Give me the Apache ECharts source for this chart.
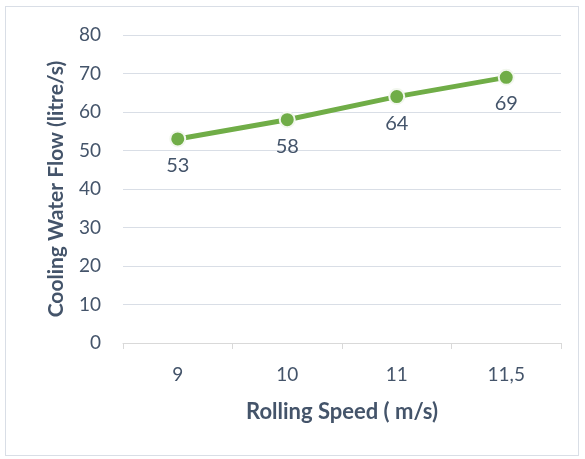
<!DOCTYPE html>
<html><head><meta charset="utf-8">
<script src="https://cdn.jsdelivr.net/npm/echarts@6/dist/echarts.min.js"></script>
<style>html,body{margin:0;padding:0;background:#fff}#c{width:585px;height:459px;position:relative}
#frame{position:absolute;left:5px;top:6px;width:574px;height:450px;border:1.5px solid #D9DEE6;box-sizing:border-box;pointer-events:none}</style>
</head><body><div id="c"></div><div id="frame"></div>
<script>
const categories = ['9', '10', '11', '11,5'];
const flowValues = [53, 58, 64, 69];
const yTicks = [0, 10, 20, 30, 40, 50, 60, 70, 80];
const txt = '#44546A';
const chart = echarts.init(document.getElementById('c'), null, {renderer: 'canvas'});
chart.setOption({
  animation: false,
  grid: {left: 123, right: 24, top: 35, bottom: 116},
  xAxis: {
    type: 'category', data: categories, boundaryGap: true,
    name: 'Rolling Speed ( m/s)', nameLocation: 'middle', nameGap: 58,
    nameTextStyle: {fontFamily: 'Lato', fontWeight: 'bold', fontSize: 22, color: txt},
    axisLine: {lineStyle: {color: '#D9D9D9', width: 1}},
    axisTick: {show: true, length: 6, lineStyle: {color: '#D9D9D9'}},
    axisLabel: {fontFamily: 'Lato', fontSize: 19, color: txt, margin: 22}
  },
  yAxis: {
    type: 'value', min: yTicks[0], max: yTicks[yTicks.length - 1], interval: 10,
    name: 'Cooling Water Flow (litre/s)', nameLocation: 'middle', nameGap: 56, nameRotate: 90,
    nameTextStyle: {fontFamily: 'Lato', fontWeight: 'bold', fontSize: 21, color: txt},
    axisLine: {show: false}, axisTick: {show: false},
    splitLine: {lineStyle: {color: '#D9DEE6', width: 1}},
    axisLabel: {fontFamily: 'Lato', fontSize: 19, color: txt, margin: 22}
  },
  series: [{
    type: 'line', data: flowValues,
    lineStyle: {color: '#70AD47', width: 5},
    itemStyle: {color: '#70AD47', borderColor: '#F2F7EE', borderWidth: 2},
    symbol: 'circle', symbolSize: 15,
    label: {show: true, position: 'bottom', distance: 8, fontFamily: 'Lato', fontSize: 20, color: txt}
  }]
});
</script></body></html>
